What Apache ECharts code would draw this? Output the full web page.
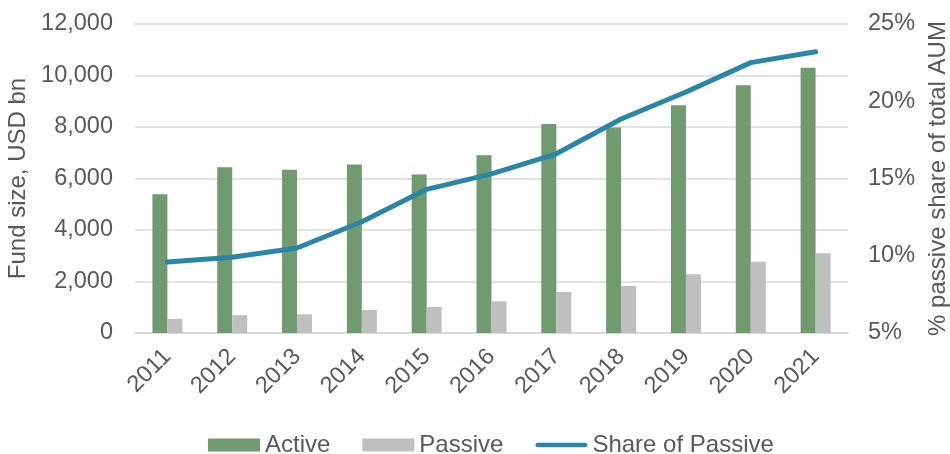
<!DOCTYPE html>
<html>
<head>
<meta charset="utf-8">
<script src="https://cdn.jsdelivr.net/npm/echarts@6/dist/echarts.min.js"></script>
<style>
  html, body { margin: 0; padding: 0; background: #fff; }
  #main { width: 950px; height: 454px; }
</style>
</head>
<body>
<div id="main"></div>
<script>
// data
var years = ['2011', '2012', '2013', '2014', '2015', '2016', '2017', '2018', '2019', '2020', '2021'];
var active = [5390, 6440, 6340, 6540, 6160, 6900, 8120, 7980, 8840, 9620, 10300];
var passive = [550, 690, 725, 895, 1010, 1230, 1590, 1825, 2280, 2770, 3095];
var shareOfPassive = [9.6, 9.9, 10.5, 12.2, 14.3, 15.3, 16.6, 18.85, 20.6, 22.5, 23.2];

var myChart = echarts.init(document.getElementById('main'));

var txt = '#595959';
var font = 'Liberation Sans, Arial, sans-serif';
var lineColor = '#2b86a6';

var option = {
    animation: false,
    textStyle: { fontFamily: font },
    grid: { left: 135, right: 102, top: 24, bottom: 121, outerBoundsMode: 'none' },
    legend: {
        top: 428,
        left: 203,
        itemWidth: 52,
        itemHeight: 13,
        itemGap: 32,
        textStyle: { fontSize: 24, color: txt, fontFamily: font },
        data: [
            { name: 'Active', icon: 'rect' },
            { name: 'Passive', icon: 'rect' },
            {
                name: 'Share of Passive',
                // thin rounded bar instead of the default line+circle
                icon: 'path://M2.5,0 L53.5,0 A2.5,2.5 0 0 1 53.5,5 L2.5,5 A2.5,2.5 0 0 1 2.5,0 Z',
                itemStyle: { color: lineColor, borderWidth: 0 }
            }
        ]
    },
    xAxis: {
        type: 'category',
        data: years,
        axisTick: { show: false },
        axisLine: { lineStyle: { color: '#d9d9d9', width: 2 } },
        axisLabel: { rotate: 45, fontSize: 23.5, color: txt, margin: 20 }
    },
    yAxis: [
        {
            type: 'value',
            min: 0,
            max: 12000,
            interval: 2000,
            name: 'Fund size, USD bn',
            nameLocation: 'middle',
            nameGap: 98,
            nameTextStyle: { fontSize: 24, color: txt },
            axisLabel: {
                fontSize: 23.5, color: txt, margin: 22,
                formatter: function (v) { return v.toLocaleString('en-US'); }
            },
            splitLine: { lineStyle: { color: '#d9d9d9', width: 1.5 } },
            axisLine: { show: false },
            axisTick: { show: false }
        },
        {
            type: 'value',
            min: 5,
            max: 25,
            interval: 5,
            name: '% passive share of total AUM',
            nameLocation: 'middle',
            nameGap: 78,
            nameRotate: 90,
            nameTextStyle: { fontSize: 24, color: txt },
            axisLabel: { fontSize: 23.5, color: txt, margin: 20, formatter: '{value}%' },
            splitLine: { show: false },
            axisLine: { show: false },
            axisTick: { show: false }
        }
    ],
    series: [
        {
            name: 'Active',
            type: 'bar',
            data: active,
            barWidth: 15,
            barGap: '0%',
            itemStyle: { color: '#729a70' }
        },
        {
            name: 'Passive',
            type: 'bar',
            data: passive,
            barWidth: 15,
            itemStyle: { color: '#bfbfbf' }
        },
        {
            name: 'Share of Passive',
            type: 'line',
            yAxisIndex: 1,
            data: shareOfPassive,
            symbol: 'none',
            lineStyle: { color: lineColor, width: 5, cap: 'round', join: 'round' },
            itemStyle: { color: lineColor }
        }
    ]
};

myChart.setOption(option);
</script>
</body>
</html>
